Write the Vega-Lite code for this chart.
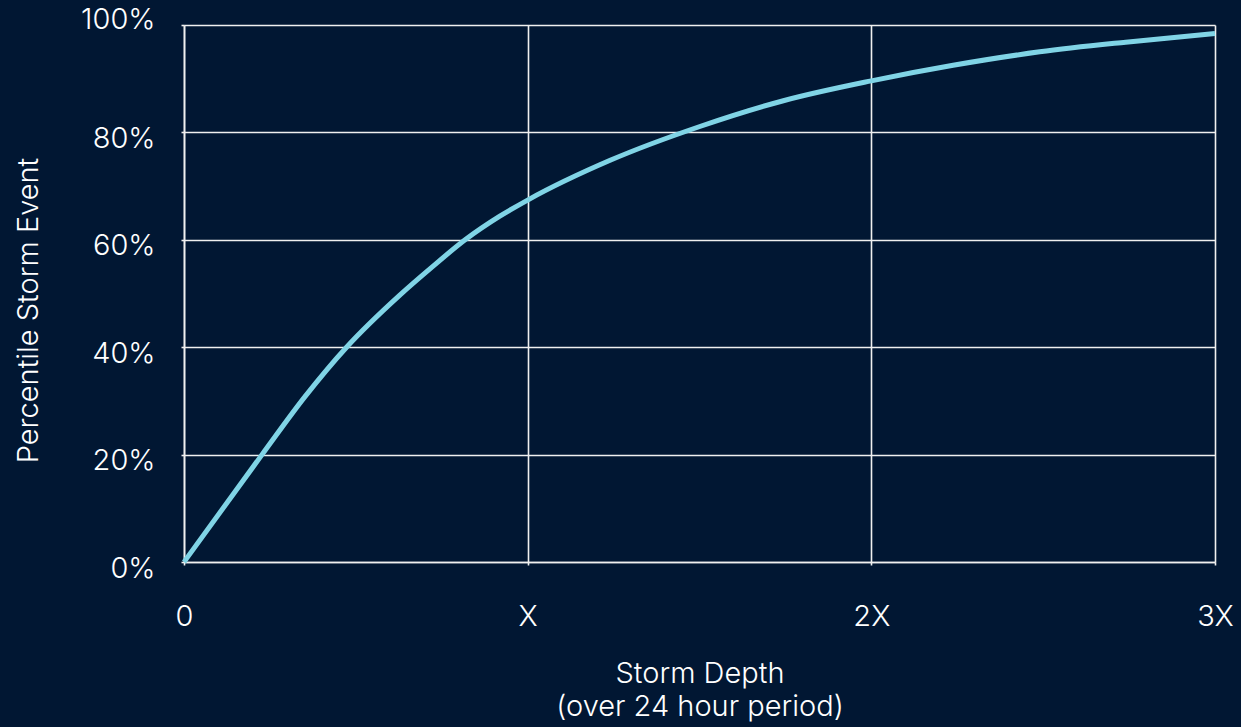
{
  "$schema": "https://vega.github.io/schema/vega-lite/v6.json",
  "autosize": {"type": "none"},
  "padding": {"left": 184, "top": 25, "right": 26, "bottom": 165},
  "width": 1031,
  "height": 537,
  "background": "#011733",
  "config": {
    "view": {"stroke": null},
    "font": "Inter",
    "axis": {
      "gridColor": "#f0f0f0",
      "gridWidth": 1.6,
      "gridOpacity": 1,
      "domainColor": "#f0f0f0",
      "domainWidth": 1.6,
      "tickColor": "#f0f0f0",
      "tickSize": 3,
      "tickWidth": 1.6,
      "labelColor": "#ffffff",
      "titleColor": "#ffffff",
      "labelFont": "Inter",
      "titleFont": "Inter",
      "labelFontSize": 29,
      "titleFontSize": 29,
      "labelFontWeight": 300,
      "titleFontWeight": 300
    }
  },
  "data": {
    "values": [
      {"depth": 0, "pct": 0},
      {"depth": 0.227, "pct": 20},
      {"depth": 0.352, "pct": 30.8},
      {"depth": 0.473, "pct": 40},
      {"depth": 0.628, "pct": 49.7},
      {"depth": 0.725, "pct": 55.1},
      {"depth": 0.818, "pct": 60},
      {"depth": 0.919, "pct": 64.4},
      {"depth": 1.0, "pct": 67.4},
      {"depth": 1.24, "pct": 74.8},
      {"depth": 1.501, "pct": 81.1},
      {"depth": 1.744, "pct": 85.9},
      {"depth": 2.0, "pct": 89.6},
      {"depth": 2.238, "pct": 92.5},
      {"depth": 2.49, "pct": 95.0},
      {"depth": 2.74, "pct": 96.8},
      {"depth": 3.0, "pct": 98.4}
    ]
  },
  "mark": {"type": "line", "color": "#80d4e6", "strokeWidth": 5, "interpolate": "monotone", "clip": false},
  "encoding": {
    "x": {
      "field": "depth",
      "type": "quantitative",
      "scale": {"domain": [0, 3], "nice": false},
      "axis": {
        "values": [0, 1, 2, 3],
        "labelExpr": "datum.value == 0 ? '0' : datum.value == 1 ? 'X' : datum.value + 'X'",
        "labelBaseline": "alphabetic",
        "labelPadding": 60,
        "labelFlush": false,
        "title": ["Storm Depth", "(over 24 hour period)"],
        "titleBaseline": "alphabetic",
        "titleLineHeight": 33,
        "titleY": 120
      }
    },
    "y": {
      "field": "pct",
      "type": "quantitative",
      "scale": {"domain": [0, 100], "nice": false},
      "axis": {
        "values": [0, 20, 40, 60, 80, 100],
        "labelExpr": "datum.value + '%'",
        "labelPadding": 26,
        "labelOffset": {"condition": {"test": "datum.value == 100", "value": -6}, "value": 6},
        "title": "Percentile Storm Event",
        "titleBaseline": "alphabetic",
        "titleX": -147,
        "titleY": 285
      }
    }
  }
}
